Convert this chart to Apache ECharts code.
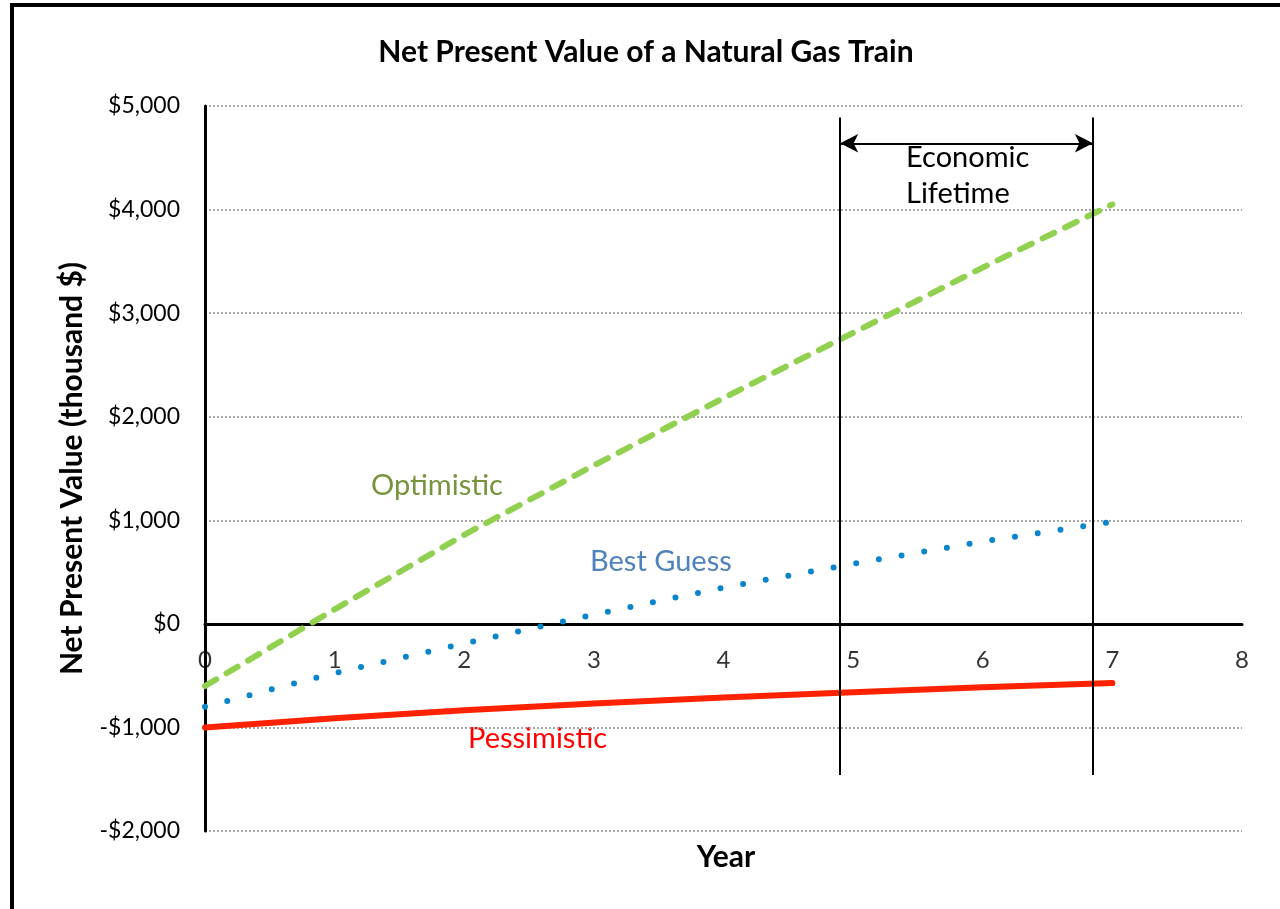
<!DOCTYPE html>
<html>
<head>
<meta charset="utf-8">
<title>Net Present Value of a Natural Gas Train</title>
<script src="https://cdn.jsdelivr.net/npm/echarts@6/dist/echarts.min.js"></script>
<style>
  html, body { margin: 0; padding: 0; background: #fff; }
  #chart { width: 1280px; height: 909px; }
</style>
</head>
<body>
<div id="chart"></div>
<script>
  // year 0..7, net present value in thousand $
  var years = [0, 1, 2, 3, 4, 5, 6, 7];
  var optimistic = [-600, 140, 860, 1530, 2180, 2810, 3440, 4050];
  var bestGuess = [-800, -475, -190, 90, 350, 580, 795, 985];
  var pessimistic = [-1000, -912, -835, -768, -710, -660, -612, -572];

  // economic lifetime brackets
  var lifetimeYears = [4.9, 6.85];
  var lifetimeSpan = [-1460, 4890];
  var lifetimeArrowY = 4640;

  var xTicks = [0, 1, 2, 3, 4, 5, 6, 7, 8];
  var yTicks = [-2000, -1000, 0, 1000, 2000, 3000, 4000, 5000];
  var xLabelRow = -350; // year labels sit just under the zero line

  var font = 'Lato, "Open Sans", sans-serif';

  function pairs(xs, ys) {
    return xs.map(function (x, i) { return [x, ys[i]]; });
  }

  function money(v) {
    var s = Math.abs(v).toString().replace(/\B(?=(\d{3})+(?!\d))/g, ',');
    return (v < 0 ? '-$' : '$') + s;
  }

  var chart = echarts.init(document.getElementById('chart'));

  var option = {
    backgroundColor: '#fff',
    animation: false,
    textStyle: { fontFamily: font },
    grid: { left: 205, right: 38, top: 106, bottom: 78 },
    xAxis: {
      type: 'value',
      min: xTicks[0],
      max: xTicks[xTicks.length - 1],
      interval: 1,
      axisLine: { onZero: true, lineStyle: { color: '#000', width: 3 } },
      axisTick: { show: false },
      splitLine: { show: false },
      axisLabel: { show: false }
    },
    yAxis: {
      type: 'value',
      min: yTicks[0],
      max: yTicks[yTicks.length - 1],
      interval: 1000,
      name: 'Net Present Value (thousand $)',
      nameLocation: 'middle',
      nameGap: 118,
      nameTextStyle: { fontFamily: font, fontSize: 30, fontWeight: 'bold', color: '#000' },
      axisLine: { show: true, onZero: false, lineStyle: { color: '#000', width: 3 } },
      axisTick: { show: false },
      axisLabel: { color: '#000', fontSize: 23, margin: 25, fontFamily: font, formatter: money },
      splitLine: { show: true, lineStyle: { color: '#A6A6A6', width: 2, type: [2, 2] } }
    },
    series: [
      {
        name: 'Year labels',
        type: 'scatter',
        silent: true,
        symbolSize: 0,
        data: xTicks.map(function (x) { return [x, xLabelRow]; }),
        label: {
          show: true,
          position: 'inside',
          formatter: function (p) { return String(p.value[0]); },
          color: '#000',
          fontSize: 24,
          fontFamily: font
        },
        z: 1
      },
      {
        name: 'Pessimistic',
        type: 'line',
        data: pairs(years, pessimistic),
        showSymbol: false,
        lineStyle: { color: '#FF2200', width: 6, cap: 'round' },
        z: 3
      },
      {
        name: 'Best Guess',
        type: 'line',
        data: pairs(years, bestGuess),
        showSymbol: false,
        lineStyle: { color: '#0A85CC', width: 6, type: [0, 23], cap: 'round' },
        z: 3
      },
      {
        name: 'Optimistic',
        type: 'line',
        data: pairs(years, optimistic),
        showSymbol: false,
        lineStyle: { color: '#92D050', width: 6, type: [13, 12], cap: 'round' },
        z: 3
      },
      {
        name: 'Economic Lifetime',
        type: 'line',
        data: [],
        markLine: {
          silent: true,
          symbol: ['none', 'none'],
          label: { show: false },
          lineStyle: { color: '#000', width: 2, type: 'solid' },
          data: [
            [{ coord: [lifetimeYears[0], lifetimeSpan[0]] }, { coord: [lifetimeYears[0], lifetimeSpan[1]] }],
            [{ coord: [lifetimeYears[1], lifetimeSpan[0]] }, { coord: [lifetimeYears[1], lifetimeSpan[1]] }]
          ]
        }
      },
      {
        name: 'Lifetime Arrow',
        type: 'line',
        data: [],
        markLine: {
          silent: true,
          symbol: ['arrow', 'arrow'],
          symbolSize: [14, 18],
          label: { show: false },
          lineStyle: { color: '#000', width: 2, type: 'solid' },
          data: [
            [{ coord: [lifetimeYears[0], lifetimeArrowY] }, { coord: [lifetimeYears[1], lifetimeArrowY] }]
          ]
        }
      }
    ],
    graphic: [
      {
        type: 'rect',
        shape: { x: 12, y: 5, width: 1400, height: 1000 },
        style: { fill: 'none', stroke: '#000', lineWidth: 4 },
        silent: true
      },
      {
        type: 'text', x: 646, y: 52,
        style: { text: 'Net Present Value of a Natural Gas Train', fill: '#000', font: 'bold 30px ' + font, align: 'center', verticalAlign: 'middle' }
      },
      {
        type: 'text', x: 371, y: 486,
        style: { text: 'Optimistic', fill: '#77933C', font: '29px ' + font, verticalAlign: 'middle' }
      },
      {
        type: 'text', x: 590, y: 562,
        style: { text: 'Best Guess', fill: '#4F81BD', font: '29px ' + font, verticalAlign: 'middle' }
      },
      {
        type: 'text', x: 468, y: 739,
        style: { text: 'Pessimistic', fill: '#FF0000', font: '29px ' + font, verticalAlign: 'middle' }
      },
      {
        type: 'text', x: 906, y: 158,
        style: { text: 'Economic', fill: '#000', font: '29px ' + font, verticalAlign: 'middle' }
      },
      {
        type: 'text', x: 906, y: 194,
        style: { text: 'Lifetime', fill: '#000', font: '29px ' + font, verticalAlign: 'middle' }
      },
      {
        type: 'text', x: 726, y: 857,
        style: { text: 'Year', fill: '#000', font: 'bold 30px ' + font, align: 'center', verticalAlign: 'middle' }
      }
    ]
  };

  chart.setOption(option);
</script>
</body>
</html>
